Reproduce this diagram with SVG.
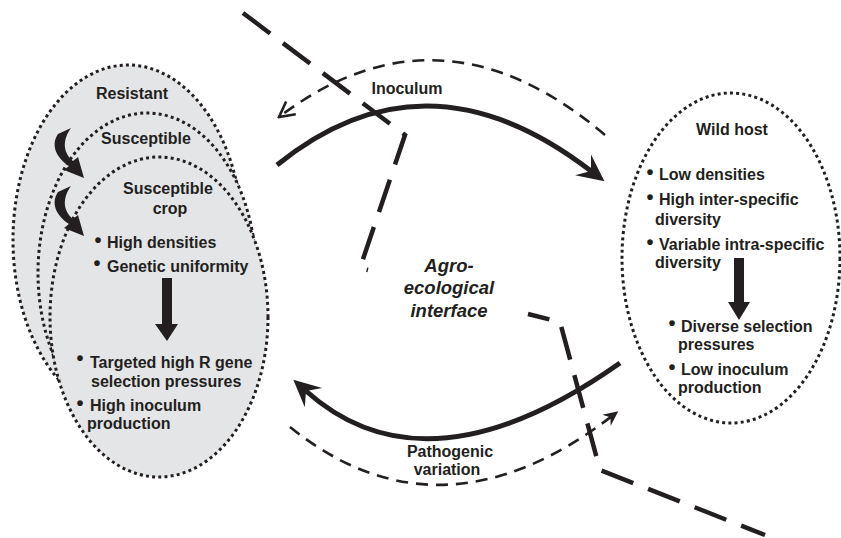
<svg xmlns="http://www.w3.org/2000/svg" width="841" height="538" viewBox="0 0 841 538">
<defs>
<style>
.t{font-family:"Liberation Sans",Arial,sans-serif;font-weight:bold;font-size:16px;fill:#231f20}
.bl{font-family:"Liberation Sans",Arial,sans-serif;font-weight:bold;font-size:20px;fill:#231f20}
.it{font-family:"Liberation Sans",Arial,sans-serif;font-weight:bold;font-style:italic;font-size:18.5px;fill:#231f20}
.dot{stroke:#231f20;stroke-width:3;stroke-dasharray:3 3.2}
.crop{fill:#e4e5e7}
.solid{fill:none;stroke:#231f20;stroke-width:5}
.dash{fill:none;stroke:#231f20;stroke-width:2.6;stroke-dasharray:12 8}
.divider{fill:none;stroke:#231f20;stroke-width:4.5;stroke-dasharray:34 16}
.blk{fill:#231f20}
</style>
<marker id="big" viewBox="-28 -15 30 30" refX="-17" refY="0" markerWidth="30" markerHeight="30" markerUnits="userSpaceOnUse" orient="auto">
<path d="M0,0 L-27,-13 L-17,0 L-27,13 Z" fill="#231f20"/>
</marker>
<marker id="chev" viewBox="-18 -10 20 20" refX="0" refY="0" markerWidth="20" markerHeight="20" markerUnits="userSpaceOnUse" orient="auto">
<path d="M-15,-8 L0,0 L-15,8" fill="none" stroke="#231f20" stroke-width="2.6"/>
</marker>
<marker id="small" viewBox="-18 -10 20 20" refX="-8" refY="0" markerWidth="20" markerHeight="20" markerUnits="userSpaceOnUse" orient="auto">
<path d="M0,0 L-15,-7 L-10,0 L-15,7 Z" fill="#231f20"/>
</marker>
</defs>
<rect width="841" height="538" fill="#fff"/>

<g id="crop-host">
<ellipse class="crop dot" cx="128" cy="240" rx="115" ry="175"/>
<ellipse class="crop dot" cx="147" cy="273" rx="109" ry="160"/>
<ellipse class="crop dot" cx="159" cy="317" rx="109" ry="160"/>
<path class="blk" d="M58,134 L71,128 C63,139 62,152 73,161 L78,157 L84,178 L64,170 L69,166 C55,157 51,144 58,134 Z"/>
<path class="blk" transform="translate(0,58)" d="M58,134 L71,128 C63,139 62,152 73,161 L78,157 L84,178 L64,170 L69,166 C55,157 51,144 58,134 Z"/>
<text class="t" x="132" y="99" text-anchor="middle">Resistant</text>
<text class="t" x="146" y="144" text-anchor="middle">Susceptible</text>
<text class="t" x="168" y="194" text-anchor="middle">Susceptible</text>
<text class="t" x="170" y="214" text-anchor="middle">crop</text>
<text class="bl" x="94.5" y="247">•</text>
<text class="t" x="107" y="248">High densities</text>
<text class="bl" x="93.5" y="270">•</text>
<text class="t" x="107" y="272">Genetic uniformity</text>
<path class="blk" d="M162,278 H172 V324 H178 L167,341 L155,324 H162 Z"/>
<text class="bl" x="76.5" y="365">•</text>
<text class="t" x="90" y="368">Targeted high R gene</text>
<text class="t" x="91" y="387">selection pressures</text>
<text class="bl" x="76.5" y="410">•</text>
<text class="t" x="90" y="411">High inoculum</text>
<text class="t" x="87" y="429">production</text>
</g>

<g id="wild-host">
<ellipse class="dot" fill="none" cx="731" cy="258" rx="109" ry="165"/>
<text class="t" x="732" y="135" text-anchor="middle">Wild host</text>
<text class="bl" x="646.5" y="179">•</text>
<text class="t" x="659" y="180">Low densities</text>
<text class="bl" x="646.5" y="204">•</text>
<text class="t" x="659" y="205">High inter-specific</text>
<text class="t" x="655" y="225">diversity</text>
<text class="bl" x="646.5" y="249">•</text>
<text class="t" x="659" y="250">Variable intra-specific</text>
<text class="t" x="655" y="268">diversity</text>
<path class="blk" d="M734,258 H744 V302 H750 L739,320 L728,302 H734 Z"/>
<text class="bl" x="668.5" y="330">•</text>
<text class="t" x="681" y="332">Diverse selection</text>
<text class="t" x="678" y="350">pressures</text>
<text class="bl" x="668.5" y="374">•</text>
<text class="t" x="681" y="375">Low inoculum</text>
<text class="t" x="678" y="393">production</text>
</g>

<g id="interface">
<text class="it" x="449" y="272" text-anchor="middle">Agro-</text>
<text class="it" x="449" y="294" text-anchor="middle">ecological</text>
<text class="it" x="449" y="317" text-anchor="middle">interface</text>
</g>

<g id="connectors">
<path class="divider" d="M243,13 L405,135 L360,268 L368,270"/>
<path class="divider" stroke-dashoffset="12" d="M528,314 L560,322 L600,470 L765,535"/>
<path class="dash" d="M605,135 Q440,-5 279,117" marker-end="url(#chev)"/>
<path class="solid" d="M277,165 Q426,44 591,171" marker-end="url(#big)"/>
<path class="solid" d="M620,363 Q427,499 306,391" marker-end="url(#big)"/>
<path class="dash" d="M290,427 Q440,548 612,416" marker-end="url(#small)"/>
<text class="t" x="407" y="94" text-anchor="middle">Inoculum</text>
<text class="t" x="450" y="457" text-anchor="middle">Pathogenic</text>
<text class="t" x="447" y="475" text-anchor="middle">variation</text>
</g>
</svg>
